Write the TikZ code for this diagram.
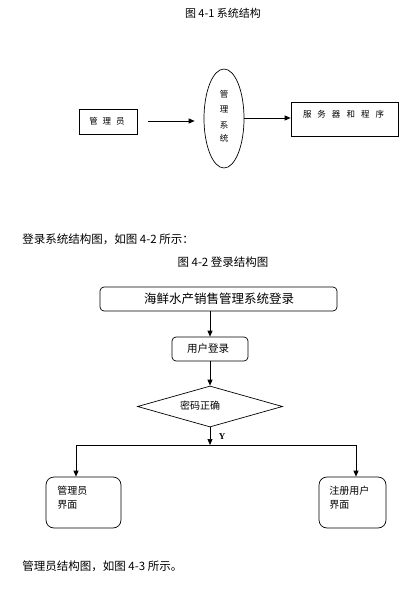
\documentclass[tikz,border=0pt]{standalone}
\usepackage{fontspec}
\setmainfont{Liberation Serif}
\newfontfamily\cjk{Noto Sans CJK SC}
\usetikzlibrary{shapes.geometric,arrows.meta}
\begin{document}
\begin{tikzpicture}[x=1pt,y=-1pt,
  line width=0.7pt,
  box/.style={draw,rectangle,inner sep=0pt},
  rbox/.style={draw,rectangle,rounded corners=4pt,inner sep=0pt},
  rbigbox/.style={draw,rectangle,rounded corners=8pt,inner sep=0pt},
  txt/.style={font=\cjk\fontsize{#1}{#1}\selectfont,inner sep=0pt},
  arr/.style={-{Triangle[length=6pt,width=5pt]}}]
\useasboundingbox (0,0) rectangle (401,604);
% ---- Figure 4-1
\node[txt=11] (t1) at (223,13) {图 4-1 系统结构};
\node[box,minimum width=58pt,minimum height=25pt] (adm) at (108,121.5) {};
\node[txt=8.5] (admt) at (107,121) {管\hspace{5pt}理\hspace{5pt}员};
\node[draw,ellipse,minimum width=40pt,minimum height=99pt,inner sep=0pt] (sys) at (224,118.5) {};
\node[txt=8.5,align=center] (syst) at (224,116) {管\\[7pt]理\\[7pt]系\\[5pt]统};
\node[box,minimum width=107pt,minimum height=34pt] (srv) at (344.5,119) {};
\node[txt=8.5] (srvt) at (343.5,114) {服\hspace{6pt}务\hspace{6pt}器\hspace{6pt}和\hspace{6pt}程\hspace{6pt}序};
\draw[arr,shorten <=11pt,shorten >=9pt] (adm.east |- 0,121) -- (sys.west |- 0,121);
\draw[arr] (sys.east |- 0,118) -- (srv.west |- 0,118);
% ---- text
\node[txt=11.5,anchor=west] (p1) at (22,239) {登录系统结构图，如图 4-2 所示：};
\node[txt=11.5] (t2) at (223,262) {图 4-2 登录结构图};
% ---- Figure 4-2
\node[rbox,minimum width=237pt,minimum height=24pt] (top) at (218.5,299) {};
\node[txt=12.5] (topt) at (219,299) {海鲜水产销售管理系统登录};
\node[rbox,minimum width=76pt,minimum height=24pt] (login) at (210,349) {};
\node[txt=10.5] (logint) at (208,349) {用户登录};
\node[draw,diamond,minimum width=145pt,minimum height=41pt,inner sep=0pt] (pw) at (210,406.5) {};
\node[txt=10] (pwt) at (200,406) {密码正确};
\draw[arr] (login.north |- top.south) -- (login.north);
\draw[arr] (login.south) -- (pw.north);
\coordinate (split) at (210,445);
\draw[arr] (pw.south) -- (split);
\node[inner sep=0pt,font=\bfseries\fontsize{9}{9}\selectfont] (ylab) at (222,437) {Y};
\node[rbigbox,minimum width=75pt,minimum height=51pt] (admui) at (83.5,502.5) {};
\node[txt=10,anchor=north west,align=left] (admuit) at (57,486) {管理员\\[4pt]界面};
\node[rbigbox,minimum width=67pt,minimum height=51pt] (reg) at (352.5,502.5) {};
\node[txt=10,anchor=north west,align=left] (regt) at (329,486) {注册用户\\[4pt]界面};
\coordinate (lc) at (76,445);
\coordinate (rc) at (356,445);
\draw (lc) -- (rc);
\draw[arr] (lc) -- (lc |- admui.north);
\draw[arr] (rc) -- (rc |- reg.north);
% ---- text
\node[txt=11.5,anchor=west] (p2) at (22,566) {管理员结构图，如图 4-3 所示。};
\end{tikzpicture}
\end{document}
